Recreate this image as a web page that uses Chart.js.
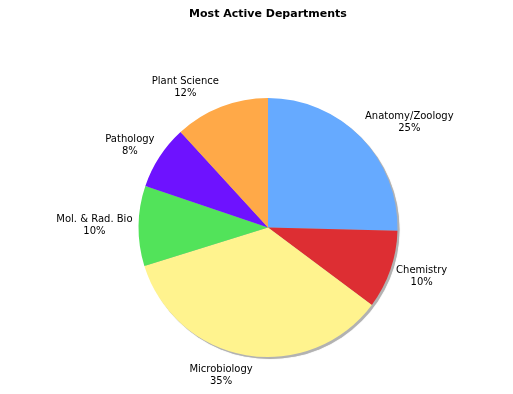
<!DOCTYPE html>
<html>
<head>
<meta charset="utf-8">
<script src="https://cdn.jsdelivr.net/npm/chart.js@4.4.1/dist/chart.umd.min.js"></script>
<style>
html,body{margin:0;padding:0;background:#fff;}
canvas{display:block;}
</style>
</head>
<body>
<canvas id="c" width="513" height="394"></canvas>
<script>
const categories = ["Anatomy/Zoology", "Chemistry", "Microbiology", "Mol. & Rad. Bio", "Pathology", "Plant Science"];
const values = [25.4, 9.8, 35.0, 10.0, 8.0, 11.8];
const sliceColors = ["#66AAFF", "#DD2E33", "#FFF38E", "#52E35A", "#6E12FF", "#FFA948"];
const titleText = "Most Active Departments";

const shadowPlugin = {
  id: 'pieShadow',
  beforeDatasetsDraw(chart) {
    const meta = chart.getDatasetMeta(0);
    if (!meta.data.length) return;
    const a = meta.data[0].getProps(['x', 'y', 'outerRadius'], true);
    const ctx = chart.ctx;
    ctx.save();
    ctx.shadowColor = 'rgba(0,0,0,0.25)';
    ctx.shadowBlur = 1;
    ctx.fillStyle = '#b2b2b2';
    ctx.beginPath();
    ctx.arc(a.x + 2, a.y + 2, a.outerRadius, 0, Math.PI * 2);
    ctx.fill();
    ctx.restore();
  }
};

const labelPlugin = {
  id: 'outLabels',
  afterDatasetsDraw(chart) {
    const ctx = chart.ctx;
    const meta = chart.getDatasetMeta(0);
    const total = values.reduce((s, v) => s + v, 0);
    ctx.save();
    ctx.font = '10px "DejaVu Sans"';
    ctx.fillStyle = '#000';
    ctx.textAlign = 'center';
    ctx.textBaseline = 'middle';
    const lh = 12;
    meta.data.forEach((arc, i) => {
      const p = arc.getProps(['x', 'y', 'startAngle', 'endAngle', 'outerRadius'], true);
      const mid = (p.startAngle + p.endAngle) / 2;
      const c = Math.cos(mid), s = Math.sin(mid);
      const r = p.outerRadius + 6;
      const ax = p.x + r * c, ay = p.y + r * s;
      const lines = [categories[i], Math.round(values[i] / total * 100) + '%'];
      const w = Math.max(...lines.map(t => ctx.measureText(t).width));
      const h = lh * lines.length;
      const kx = Math.max(-1, Math.min(1, c * 4.5));
      const cx = ax + (w / 2) * kx;
      const cy = ay + (h / 2) * s * 1.2;
      lines.forEach((t, j) => {
        ctx.fillText(t, cx, cy - h / 2 + lh / 2 + j * lh);
      });
    });
    ctx.restore();
  }
};

new Chart(document.getElementById('c'), {
  type: 'pie',
  data: {
    labels: categories,
    datasets: [{
      data: values,
      backgroundColor: sliceColors,
      borderWidth: 0
    }]
  },
  options: {
    responsive: false,
    animation: false,
    layout: { padding: { left: 138.5, right: 115.5, top: 0, bottom: 37 } },
    plugins: {
      legend: { display: false },
      tooltip: { enabled: false },
      title: {
        display: true,
        text: titleText,
        color: '#000',
        font: { family: '"DejaVu Sans"', size: 11, weight: 'bold', lineHeight: 1.2 },
        padding: { top: 8, bottom: 76.8 }
      }
    }
  },
  plugins: [shadowPlugin, labelPlugin]
});
</script>
</body>
</html>
